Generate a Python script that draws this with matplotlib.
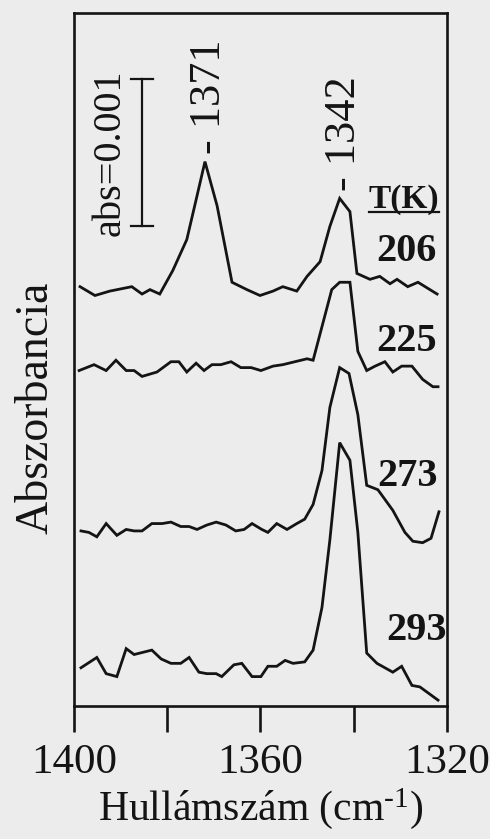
import numpy as np
import matplotlib.pyplot as plt
from matplotlib.lines import Line2D

plt.rcParams['font.family'] = ['Liberation Serif', 'DejaVu Serif']
plt.rcParams['mathtext.fontset'] = 'custom'
plt.rcParams['mathtext.rm'] = 'Liberation Serif'
plt.rcParams['mathtext.default'] = 'regular'

# IR spectra, wavenumber (cm-1) and absorbance in 1e-4 units above each baseline
temps = ['206', '225', '273', '293']

wn_206 = [1398.7, 1395.5, 1392.3, 1387.6, 1385.4, 1383.7, 1381.6, 1378.8, 1375.8, 1374.1,
          1371.9, 1369.3, 1366.1, 1362.9, 1360.1, 1357.3, 1355.2, 1352.2, 1350.0, 1347.2,
          1345.1, 1343.0, 1340.8, 1339.3, 1336.5, 1334.4, 1332.2, 1330.7, 1328.4, 1326.2,
          1322.1]
abs_206 = [0.3, -0.3, 0.0, 0.3, -0.2, 0.1, -0.2, 1.4, 3.5, 5.8,
           8.8, 5.8, 0.6, 0.1, -0.3, 0.0, 0.3, 0.0, 1.0, 2.0,
           4.4, 6.3, 5.4, 1.2, 0.8, 1.0, 0.5, 0.8, 0.3, 0.6,
           -0.2]

wn_225 = [1398.9, 1395.7, 1393.1, 1391.0, 1388.8, 1387.1, 1385.4, 1382.2, 1379.2, 1377.5,
          1375.8, 1373.8, 1372.1, 1370.4, 1368.5, 1366.3, 1364.2, 1362.0, 1359.9, 1357.3,
          1355.2, 1352.6, 1350.0, 1348.7, 1344.7, 1343.0, 1340.8, 1339.1, 1337.2, 1335.4,
          1333.3, 1331.6, 1329.7, 1327.5, 1325.2, 1323.0, 1321.9]
abs_225 = [-0.1, 0.3, -0.1, 0.6, -0.1, -0.1, -0.5, -0.2, 0.5, 0.5,
           -0.2, 0.4, -0.1, 0.3, 0.3, 0.5, 0.1, 0.1, -0.1, 0.2,
           0.3, 0.5, 0.7, 0.6, 5.4, 5.9, 5.9, 1.2, -0.1, 0.2,
           0.5, -0.2, 0.2, 0.2, -0.7, -1.2, -1.2]

wn_273 = [1398.5, 1396.8, 1395.1, 1393.1, 1390.8, 1388.8, 1387.1, 1385.4, 1383.3, 1381.1,
          1379.2, 1377.1, 1375.3, 1373.6, 1371.5, 1369.5, 1367.4, 1365.3, 1363.5, 1361.8,
          1359.7, 1358.4, 1356.5, 1354.3, 1352.2, 1350.5, 1348.7, 1346.8, 1345.1, 1343.0,
          1341.0, 1339.1, 1337.2, 1334.8, 1331.6, 1329.0, 1327.3, 1325.2, 1323.4, 1321.7]
abs_273 = [-0.2, -0.3, -0.6, 0.3, -0.5, -0.1, -0.2, -0.2, 0.3, 0.3,
           0.4, 0.1, 0.1, -0.1, 0.2, 0.4, 0.2, -0.2, -0.1, 0.3,
           -0.1, -0.3, 0.3, -0.1, 0.3, 0.6, 1.6, 3.9, 8.2, 10.9,
           10.5, 7.7, 2.9, 2.6, 1.2, -0.3, -0.9, -1.0, -0.7, 1.1]

wn_293 = [1398.5, 1395.1, 1393.1, 1390.8, 1388.8, 1387.1, 1383.3, 1381.3, 1379.2, 1377.1,
          1375.3, 1373.2, 1371.5, 1369.5, 1368.3, 1365.7, 1364.0, 1361.8, 1359.9, 1358.4,
          1356.5, 1354.7, 1353.0, 1350.5, 1348.7, 1346.8, 1345.1, 1343.0, 1340.8, 1339.1,
          1337.2, 1335.0, 1331.6, 1329.7, 1327.5, 1325.8, 1321.9]
abs_293 = [0.0, 0.7, -0.4, -0.6, 1.3, 0.9, 1.2, 0.6, 0.3, 0.3,
           0.7, -0.3, -0.4, -0.4, -0.6, 0.2, 0.3, -0.6, -0.6, 0.1,
           0.1, 0.5, 0.3, 0.4, 1.2, 4.1, 8.7, 15.3, 14.1, 9.2,
           1.0, 0.3, -0.3, 0.1, -1.2, -1.3, -2.2]

peak_labels = [1371, 1342]
scale_bar = 10  # 0.001 abs in 1e-4 units

spectra = [(wn_206, abs_206), (wn_225, abs_225), (wn_273, abs_273), (wn_293, abs_293)]
# vertical stacking of the traces
offsets = [28.2, 22.9, 12.1, 2.6]
temp_pos = [(1328.6, 30.9), (1328.6, 24.8), (1328.4, 15.6), (1326.6, 5.1)]
peak_label_y = [37.5, 35.0]

ink = '#141414'
bg = '#ececec'

fig = plt.figure(figsize=(4.9, 8.39), dpi=100, facecolor=bg)
ax = fig.add_axes([0.151, 0.1585, 0.761, 0.826], facecolor=bg)

for (wn, a), off in zip(spectra, offsets):
    ax.plot(wn, np.array(a) + off, color=ink, lw=2.0, solid_joinstyle='miter')

ax.set_xlim(1400, 1320)
ax.set_ylim(0, 47.1)

# temperature labels
for t, (x, y) in zip(temps, temp_pos):
    ax.text(x, y, t, fontsize=29, fontweight='bold', ha='center', va='center', color=ink)
tk = ax.text(1329.2, 34.4, 'T(K)', fontsize=24, fontweight='bold', ha='center', va='center',
             color=ink)

# peak positions
for p, y in zip(peak_labels, peak_label_y):
    ax.text(p, y, '- %d' % p, fontsize=32, rotation=90, ha='center', va='bottom', color=ink)

# absorbance scale bar
bx = 1385.4
by0 = 32.6
ax.plot([bx, bx], [by0, by0 + scale_bar], color=ink, lw=1.6)
for yy in (by0, by0 + scale_bar):
    ax.plot([bx - 2.4, bx + 2.4], [yy, yy], color=ink, lw=1.6)
ax.text(1392.3, by0 + scale_bar / 2, 'abs=0.001', fontsize=29, rotation=90,
        ha='center', va='center', color=ink)

ax.set_xticks([1400, 1380, 1360, 1340, 1320])
ax.set_xticklabels(['1400', '', '1360', '', '1320'])
ax.set_yticks([])
ax.tick_params(axis='x', direction='out', length=19, width=1.9, colors=ink,
               labelsize=31, pad=8)
for s in ax.spines.values():
    s.set_linewidth(1.9)
    s.set_color(ink)

ax.set_xlabel(r'Hullámszám (cm$^{\text{-1}}$)', fontsize=30, color=ink, labelpad=3)
ax.set_ylabel('Abszorbancia', fontsize=33, color=ink)
ax.yaxis.set_label_coords(-0.045, 0.43)

# underline the T(K) header
fig.canvas.draw()
bb = tk.get_window_extent()
fig.add_artist(Line2D([bb.x0, bb.x1], [bb.y0 + 3, bb.y0 + 3], transform=None,
                      color=ink, lw=1.6))

fig.savefig('out.png', dpi=100, facecolor=bg)
